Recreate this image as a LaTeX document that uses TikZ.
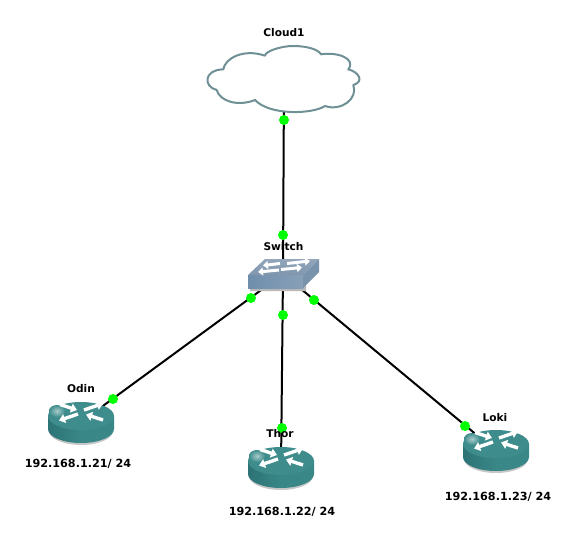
\documentclass[tikz,border=0pt]{standalone}
\usepackage{fontspec}
\setmainfont{DejaVu Sans}
\usetikzlibrary{arrows.meta}
\definecolor{routertop}{HTML}{3F8C8C}
\definecolor{routerside}{HTML}{3A8787}
\definecolor{routerdark}{HTML}{2C7375}
\definecolor{cloudline}{HTML}{6F9095}
\definecolor{swtop}{HTML}{93A6BA}
\definecolor{swtopb}{HTML}{7F96AE}
\definecolor{swfrontl}{HTML}{6F8EAC}
\definecolor{swfrontr}{HTML}{88A0B8}
\definecolor{swside}{HTML}{7A93AC}
\tikzset{
  x=1pt,y=-1pt,
  cable/.style={draw=black,line width=2pt},
  anchorpt/.style={inner sep=0pt,minimum size=0pt,outer sep=0pt},
  port/.style={circle,fill=green,inner sep=0pt,minimum size=10pt},
  lbl/.style={font=\bfseries\fontsize{11.2pt}{13pt}\selectfont,text=black,inner sep=0pt},
  lblsm/.style={font=\bfseries\fontsize{10.6pt}{12pt}\selectfont,text=black,inner sep=0pt},
  rarw/.style={draw=white,line width=3.4pt,-{Triangle[length=6pt,width=9pt]}},
  sarw/.style={draw=white,line width=3pt,-{Triangle[length=5pt,width=8pt]}},
  router/.pic={
    \fill[black!22] (-32,8) arc[start angle=180,end angle=0,x radius=32,y radius=14] -- cycle;
    \path[left color=routerdark,right color=routerside,middle color=routerside]
      (-33,-7) -- (-33,6) arc[start angle=180,end angle=0,x radius=33,y radius=14] -- (33,-7) -- cycle;
    \fill[routertop] (0,-7) ellipse[x radius=33,y radius=14];
    \shade[inner color=white!55!routertop,outer color=routertop]
      (-24,-12) ellipse[x radius=8,y radius=6];
    \draw[rarw] (-21,-18.5) -- (-4,-13);
    \draw[rarw] (3,-13) -- (22,-19.5);
    \draw[rarw] (-3,-9) -- (-22,-2.5);
    \draw[rarw] (22,-3) -- (5,-8.5);
  },
}
\begin{document}
\begin{tikzpicture}
\useasboundingbox (0,0) rectangle (576,543);
\fill[white] (0,0) rectangle (576,543);
% device centres
\node[anchorpt] (cloud) at (284,80) {};
\node[anchorpt] (switch) at (283,274) {};
\node[anchorpt] (odin) at (81,422) {};
\node[anchorpt] (thor) at (281,467) {};
\node[anchorpt] (loki) at (496,451) {};
% connectors
\draw[cable] (cloud.center) -- (switch.center);
\draw[cable] (switch.center) -- (odin.center);
\draw[cable] (switch.center) -- (thor.center);
\draw[cable] (switch.center) -- (loki.center);
% cloud
\begin{scope}[shift={(190,10)},x=0.3333pt,y=-0.3333pt]
\draw[cloudline,line width=2pt,fill=white,line join=round]
  (100,178) .. controls (105,145) and (160,115) .. (225,137)
  .. controls (225,125) and (270,108) .. (310,108)
  .. controls (350,108) and (385,118) .. (393,133)
  .. controls (440,125) and (500,145) .. (475,178)
  .. controls (505,185) and (525,215) .. (490,225)
  .. controls (505,265) and (455,305) .. (405,288)
  .. controls (370,312) and (240,318) .. (195,270)
  .. controls (145,290) and (90,275) .. (80,240)
  .. controls (40,230) and (40,180) .. (100,178) -- cycle;
\end{scope}
% switch
\fill[black!28] (250,287) -- (303,287) -- (306,284) -- (306,291) -- (250,291) -- cycle;
\shade[top color=swtop,bottom color=swtopb] (265,259) -- (319,259) -- (303,275) -- (248,275) -- cycle;
\fill[swside] (303,275) -- (319,259) -- (319,272) -- (303,288) -- cycle;
\shade[left color=swfrontl,right color=swfrontr] (248,275) rectangle (303,288);
\draw[sarw] (280,263.5) -- (263,265.5);
\draw[sarw] (287,263.5) -- (310,261);
\draw[sarw] (279,270) -- (258,272);
\draw[sarw] (281,269.5) -- (302,267.5);
% routers
\pic at (81,423) {router};
\pic at (281,468) {router};
\pic at (496,451) {router};
% ports
\node[port] (p1) at (284,120) {};
\node[port] (p2) at (283,235) {};
\node[port] (p3) at (251,298) {};
\node[port] (p4) at (283,315) {};
\node[port] (p5) at (314,300) {};
\node[port] (p6) at (113,399) {};
\node[port] (p7) at (282,428) {};
\node[port] (p8) at (465,426) {};
% labels
\node[lblsm] (lcloud) at (284,32.5) {Cloud1};
\node[lblsm] (lswitch) at (283.5,246.5) {Switch};
\node[lblsm] (lodin) at (81,388.5) {Odin};
\node[lblsm] (lthor) at (280,433.5) {Thor};
\node[lblsm] (lloki) at (495,417.5) {Loki};
\node[lbl] (iodin) at (78,463.5) {192.168.1.21/ 24};
\node[lbl] (ithor) at (282,511.5) {192.168.1.22/ 24};
\node[lbl] (iloki) at (498,496.5) {192.168.1.23/ 24};
\end{tikzpicture}
\end{document}
